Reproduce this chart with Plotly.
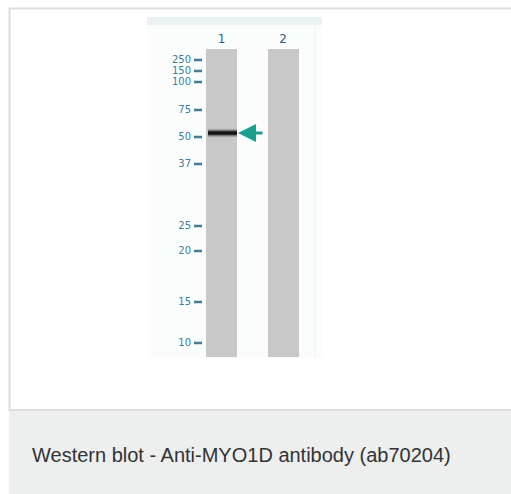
import plotly.graph_objects as go

# ---- data ----
lane_labels = ["1", "2"]
lane_centers = [221.5, 283.0]          # lane centre positions (image units)
lane_top = 49
lane_bottom = 357

marker_labels = ["250", "150", "100", "75", "50", "37", "25", "20", "15", "10"]
marker_positions = [60, 71, 82, 110, 137, 164, 226, 251, 302, 343]   # migration (image units)

band_lane = "1"
band_position = 133

caption = "Western blot - Anti-MYO1D antibody (ab70204)"

W, H = 511, 494
lane_w = 31
marker_color = "#3a7f9c"
teal = "#17a08c"

fig = go.Figure()

# lanes
fig.add_trace(go.Bar(
    x=lane_centers, y=[lane_bottom - lane_top] * len(lane_centers), base=[lane_top] * len(lane_centers),
    width=lane_w, marker=dict(color="#c8c8c8", line=dict(width=0)),
    hoverinfo="skip", showlegend=False))

# lane labels
fig.add_trace(go.Scatter(
    x=lane_centers, y=[lane_top - 9] * len(lane_centers), mode="text", text=lane_labels,
    textfont=dict(family="DejaVu Sans", size=12, color="#2d5f7a"),
    hoverinfo="skip", showlegend=False))

# marker dashes
dx, dy = [], []
for p in marker_positions:
    dx += [194, 202, None]
    dy += [p, p, None]
fig.add_trace(go.Scatter(x=dx, y=dy, mode="lines", line=dict(color=marker_color, width=2.5),
                         hoverinfo="skip", showlegend=False))
# marker labels
fig.add_trace(go.Scatter(
    x=[191] * len(marker_labels), y=marker_positions, mode="text", text=marker_labels,
    textposition="middle left",
    textfont=dict(family="DejaVu Sans", size=10, color=marker_color),
    hoverinfo="skip", showlegend=False))

# band
bx = lane_centers[lane_labels.index(band_lane)]
for w, c in [(8, "rgba(90,90,90,0.35)"), (5, "rgba(40,40,40,0.7)"), (3, "#141414")]:
    fig.add_trace(go.Scatter(x=[bx - lane_w / 2 + 2, bx + lane_w / 2], y=[band_position, band_position],
                             mode="lines", line=dict(color=c, width=w),
                             hoverinfo="skip", showlegend=False))

shapes = [
    # card border (left and top)
    dict(type="line", x0=9.5, x1=9.5, y0=8.5, y1=411, line=dict(color="#dddddd", width=2)),
    dict(type="line", x0=9, x1=W, y0=8.5, y1=8.5, line=dict(color="#dddddd", width=2)),
    # caption area
    dict(type="rect", x0=9, x1=W, y0=410, y1=H, fillcolor="#edeeee", line=dict(width=0)),
    dict(type="line", x0=9, x1=W, y0=410, y1=410, line=dict(color="#dcdcdc", width=2)),
    # blot panel
    dict(type="rect", x0=147, x1=322, y0=17, y1=358, fillcolor="#fbfcfc", line=dict(width=0), layer="below"),
    dict(type="rect", x0=147, x1=322, y0=17, y1=25, fillcolor="#e9f1f5", line=dict(width=0), layer="below"),
    dict(type="line", x0=315, x1=315, y0=25, y1=358, line=dict(color="#eef3f5", width=1), layer="below"),
]

annotations = [
    dict(x=bx + lane_w / 2 + 1, y=band_position, ax=264, ay=band_position, xref="x", yref="y",
         axref="x", ayref="y", showarrow=True, arrowhead=2, arrowsize=1.2, arrowwidth=3,
         arrowcolor=teal, text=""),
    dict(x=30, y=455, xref="x", yref="y", text=caption, showarrow=False, xanchor="left",
         yanchor="middle", font=dict(family="Liberation Sans", size=20, color="#333333")),
]

fig.update_layout(
    width=W, height=H, margin=dict(l=0, r=0, t=0, b=0),
    paper_bgcolor="white", plot_bgcolor="white",
    xaxis=dict(range=[0, W], visible=False, fixedrange=True),
    yaxis=dict(range=[H, 0], visible=False, fixedrange=True),
    shapes=shapes, annotations=annotations, bargap=0,
)

fig.write_html("out.html", config={"displayModeBar": False},
               post_script="document.body.style.margin='0';document.body.style.overflow='hidden';")
